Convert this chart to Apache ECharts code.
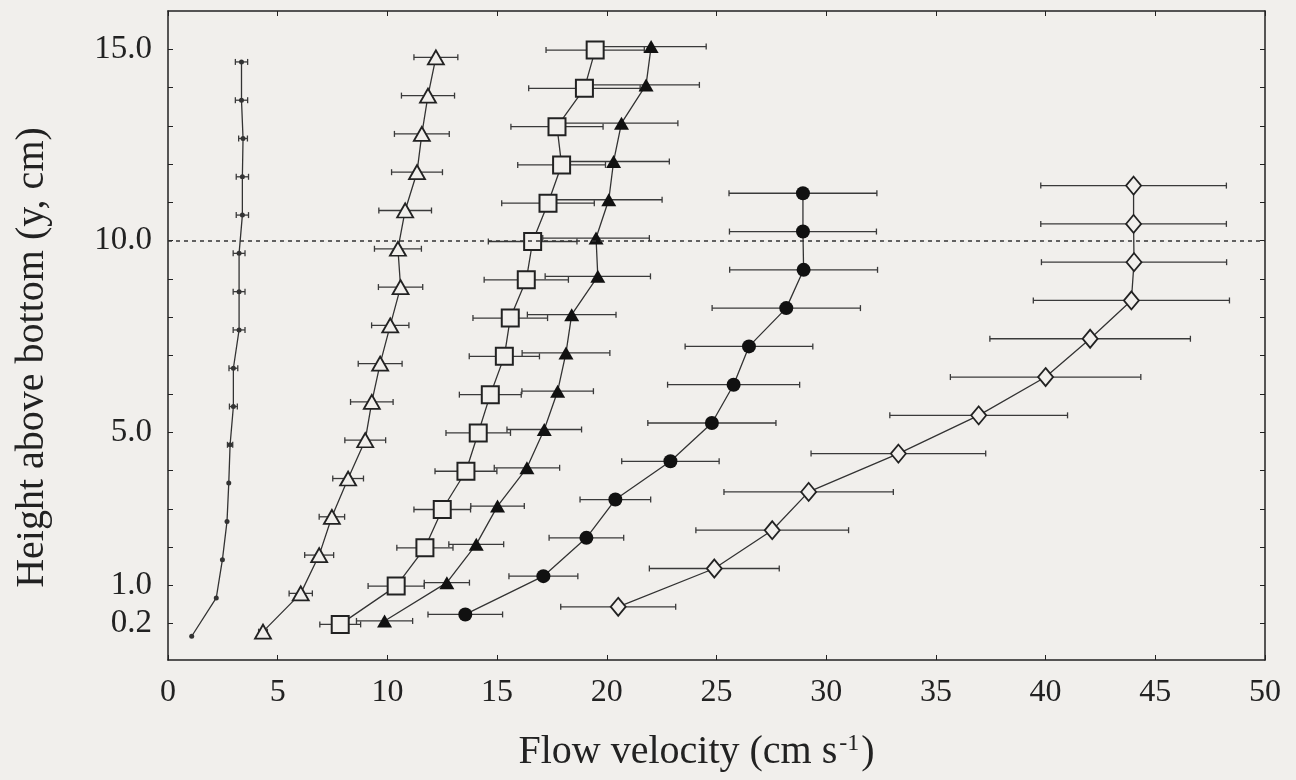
<!DOCTYPE html>
<html>
<head>
<meta charset="utf-8">
<script src="https://cdn.jsdelivr.net/npm/echarts@6/dist/echarts.min.js"></script>
<style>
  html, body { margin: 0; padding: 0; background: #f1efec; }
  #chart { width: 1296px; height: 780px; }
</style>
</head>
<body>
<div id="chart"></div>
<script>
// measurement heights above bottom (cm), plotted as equally spaced levels
const levels = [0.2, 1, 2, 3, 4, 5, 6, 7, 8, 9, 10, 11, 12, 13, 14, 15];
const yLabelLevels = [0.2, 1, 5, 10, 15];
const xTicks = [0, 5, 10, 15, 20, 25, 30, 35, 40, 45, 50];

// mean flow velocity (cm/s) and spread, from lowest level upward
const dotVel = [1.08, 2.20, 2.48, 2.69, 2.77, 2.83, 2.98, 2.98, 3.24, 3.24, 3.24, 3.39, 3.39, 3.42, 3.35, 3.35];
const dotSd = [0, 0.03, 0.03, 0.05, 0.05, 0.12, 0.18, 0.2, 0.27, 0.27, 0.27, 0.28, 0.28, 0.2, 0.28, 0.28];

const openTriVel = [4.33, 6.05, 6.89, 7.47, 8.21, 8.99, 9.29, 9.67, 10.13, 10.60, 10.48, 10.81, 11.35, 11.57, 11.85, 12.21];
const openTriSd = [0.2, 0.53, 0.66, 0.58, 0.70, 0.93, 0.97, 1.0, 0.85, 1.01, 1.07, 1.20, 1.16, 1.25, 1.21, 1.00];

const squareVel = [7.85, 10.40, 11.71, 12.50, 13.58, 14.14, 14.69, 15.33, 15.60, 16.33, 16.62, 17.32, 17.94, 17.73, 18.98, 19.47];
const squareSd = [0.93, 1.28, 1.28, 1.29, 1.41, 1.47, 1.41, 1.60, 1.70, 1.92, 2.02, 2.11, 2.0, 2.10, 2.54, 2.24];

const fillTriVel = [9.87, 12.71, 14.05, 15.02, 16.36, 17.15, 17.76, 18.14, 18.40, 19.59, 19.51, 20.09, 20.31, 20.67, 21.79, 22.02];
const fillTriSd = [1.28, 1.03, 1.25, 1.22, 1.49, 1.70, 1.63, 2.0, 2.02, 2.40, 2.43, 2.43, 2.54, 2.57, 2.43, 2.51];

const circleVel = [13.55, 17.11, 19.07, 20.39, 22.90, 24.79, 25.78, 26.48, 28.18, 28.97, 28.94, 28.94];
const circleSd = [1.70, 1.57, 1.70, 1.61, 2.22, 2.92, 3.01, 2.91, 3.38, 3.37, 3.35, 3.37];

const diamondVel = [20.52, 24.90, 27.54, 29.20, 33.29, 36.95, 40.0, 42.03, 43.91, 44.03, 44.01, 44.01];
const diamondSd = [2.62, 2.96, 3.48, 3.86, 3.98, 4.05, 4.34, 4.57, 4.47, 4.22, 4.23, 4.23];

const BG = "#f1efec";
const INK = "#222";
const FONT = "Liberation Serif";

const chart = echarts.init(document.getElementById("chart"));

// errorbar: horizontal whisker with small caps
function errorSeries(vel, sd, lift) {
  return {
    type: "custom",
    z: 1,
    silent: true,
    data: vel.map((v, i) => [v - sd[i], v + sd[i], i + lift, sd[i]]),
    encode: { x: [0, 1], y: 2 },
    renderItem(params, api) {
      const a = api.coord([api.value(0), api.value(2)]);
      const b = api.coord([api.value(1), api.value(2)]);
      const style = { stroke: "#3a3a3a", lineWidth: 1.3 };
      const children = [
        { type: "line", shape: { x1: a[0], y1: a[1], x2: b[0], y2: b[1] }, style }
      ];
      if (api.value(3) > 0.1) {
        children.push(
          { type: "line", shape: { x1: a[0], y1: a[1] - 3, x2: a[0], y2: a[1] + 3 }, style },
          { type: "line", shape: { x1: b[0], y1: b[1] - 3, x2: b[0], y2: b[1] + 3 }, style }
        );
      }
      return { type: "group", children };
    }
  };
}

function profileSeries(vel, lift, symbol, size, fill, border) {
  return {
    type: "line",
    z: 3,
    data: vel.map((v, i) => [v, i + lift]),
    symbol,
    symbolSize: size,
    showAllSymbol: true,
    lineStyle: { color: "#333", width: 1.3 },
    itemStyle: { color: fill, borderColor: INK, borderWidth: border }
  };
}

// small vertical stagger between profiles, as in the original figure
const series = [
  errorSeries(dotVel, dotSd, -0.33),
  errorSeries(openTriVel, openTriSd, -0.21),
  errorSeries(squareVel, squareSd, -0.02),
  errorSeries(fillTriVel, fillTriSd, 0.07),
  errorSeries(circleVel, circleSd, 0.24),
  errorSeries(diamondVel, diamondSd, 0.44),
  profileSeries(dotVel, -0.33, "circle", 5, "#333", 0),
  profileSeries(openTriVel, -0.21, "triangle", [16, 14], BG, 1.8),
  profileSeries(squareVel, -0.02, "rect", 17, BG, 2),
  profileSeries(fillTriVel, 0.07, "triangle", [15, 13], "#111", 0),
  profileSeries(circleVel, 0.24, "circle", 14, "#111", 0),
  profileSeries(diamondVel, 0.44, "diamond", [15, 18], BG, 1.8)
];

series[6].markLine = {
  silent: true,
  symbol: "none",
  animation: false,
  label: { show: false },
  lineStyle: { type: [4, 4], color: "#333", width: 1.5 },
  data: [{ yAxis: levels.indexOf(10) }]
};

const tickIdx = levels.map((l, i) => i);
const labelIdx = yLabelLevels.map(l => levels.indexOf(l));

const xCommon = {
  type: "value",
  min: 0,
  max: 50,
  interval: 5,
  splitLine: { show: false },
  axisLine: { onZero: false, lineStyle: { color: INK, width: 1.5 } },
  axisTick: { inside: true, length: 5, lineStyle: { color: INK } }
};
const yCommon = {
  type: "value",
  min: -0.95,
  max: 16,
  splitLine: { show: false },
  axisLine: { onZero: false, lineStyle: { color: INK, width: 1.5 } },
  axisTick: { inside: true, length: 5, customValues: tickIdx, lineStyle: { color: INK } }
};

chart.setOption({
  backgroundColor: BG,
  animation: false,
  grid: { left: 168, right: 31, top: 11, bottom: 120 },
  xAxis: [
    Object.assign({}, xCommon, {
      position: "bottom",
      axisLabel: {
        color: INK, fontSize: 32, fontFamily: FONT, margin: 17,
        customValues: xTicks
      },
      name: "Flow velocity (cm s{sup|-1})",
      nameLocation: "middle",
      nameGap: 72,
      nameTextStyle: {
        color: INK, fontSize: 40, fontFamily: FONT,
        padding: [0, 40, 0, 0],
        rich: { sup: { fontSize: 24, fontFamily: FONT, color: INK, verticalAlign: "top", padding: [0, 2, 14, 2] } }
      }
    }),
    Object.assign({}, xCommon, { position: "top", axisLabel: { show: false } })
  ],
  yAxis: [
    Object.assign({}, yCommon, {
      position: "left",
      axisLabel: {
        color: INK, fontSize: 33, fontFamily: FONT, margin: 16,
        customValues: labelIdx,
        formatter: v => levels[Math.round(v)].toFixed(1)
      },
      name: "Height above bottom (y, cm)",
      nameLocation: "middle",
      nameGap: 116,
      nameTextStyle: { color: INK, fontSize: 40, fontFamily: FONT, padding: [0, 44, 0, 0] }
    }),
    Object.assign({}, yCommon, { position: "right", axisLabel: { show: false } })
  ],
  series
});
</script>
</body>
</html>
